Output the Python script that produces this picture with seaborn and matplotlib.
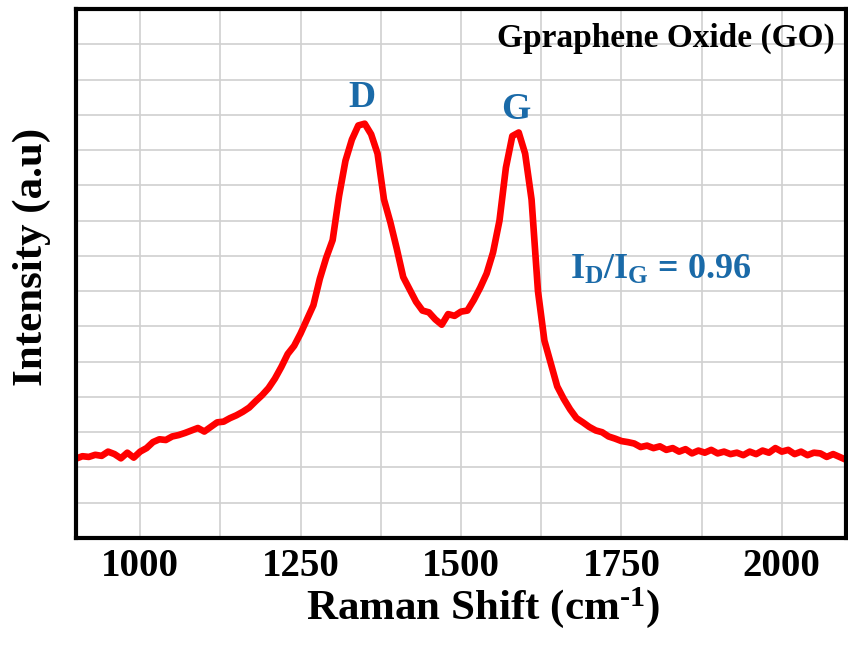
import matplotlib
matplotlib.use("Agg")
import matplotlib.pyplot as plt
import numpy as np
import pandas as pd
import seaborn as sns
from matplotlib.ticker import MultipleLocator

# Raman spectrum of GO (arbitrary intensity units)
shift = np.arange(900, 2101, 10)
intensity = [
    2.25, 2.32, 2.30, 2.36, 2.33, 2.45, 2.38, 2.26, 2.42, 2.28,   # 900-990
    2.45, 2.55, 2.72, 2.80, 2.78, 2.88, 2.92, 2.98, 3.05, 3.12,   # 1000-1090
    3.02, 3.15, 3.28, 3.30, 3.40, 3.48, 3.58, 3.70, 3.88, 4.05,   # 1100-1190
    4.25, 4.52, 4.85, 5.22, 5.45, 5.80, 6.20, 6.60, 7.35, 7.95,   # 1200-1290
    8.45, 9.70, 10.70, 11.30, 11.70, 11.75, 11.45, 10.90, 9.60, 8.95,  # 1300-1390
    8.20, 7.40, 7.05, 6.70, 6.45, 6.40, 6.20, 6.05, 6.35, 6.30,   # 1400-1490
    6.42, 6.45, 6.75, 7.10, 7.50, 8.10, 9.00, 10.50, 11.40, 11.50,  # 1500-1590
    10.90, 9.60, 7.00, 5.60, 4.95, 4.30, 3.95, 3.65, 3.40, 3.28,  # 1600-1690
    3.15, 3.05, 3.00, 2.88, 2.82, 2.75, 2.72, 2.68, 2.58, 2.62,   # 1700-1790
    2.55, 2.60, 2.50, 2.55, 2.45, 2.52, 2.40, 2.48, 2.42, 2.50,   # 1800-1890
    2.40, 2.45, 2.38, 2.42, 2.35, 2.45, 2.38, 2.48, 2.42, 2.55,   # 1900-1990
    2.45, 2.50, 2.38, 2.45, 2.35, 2.42, 2.40, 2.30, 2.38, 2.30,   # 2000-2090
    2.22,                                                          # 2100
]
xticks = [1000, 1250, 1500, 1750, 2000]

df = pd.DataFrame({"shift": shift, "intensity": intensity})

sns.set_style("white")
plt.rcParams["font.family"] = ["Liberation Serif", "DejaVu Serif"]
plt.rcParams["font.weight"] = "bold"
plt.rcParams["text.color"] = "black"
plt.rcParams["axes.labelcolor"] = "black"
plt.rcParams["xtick.color"] = "black"
plt.rcParams["ytick.color"] = "black"
plt.rcParams["mathtext.fontset"] = "custom"
plt.rcParams["mathtext.rm"] = "Liberation Serif:bold"
plt.rcParams["mathtext.it"] = "Liberation Serif:bold"
plt.rcParams["mathtext.bf"] = "Liberation Serif:bold"

fig = plt.figure(figsize=(8.48, 6.49), dpi=100)
ax = fig.add_axes([0.0896, 0.171, 0.908, 0.815])

sns.lineplot(data=df, x="shift", y="intensity", color="#ff0000", lw=4.8, ax=ax)

ax.set_xlim(900, 2100)
ax.set_ylim(0, 15)
ax.set_xticks(xticks)
ax.xaxis.set_minor_locator(MultipleLocator(125))
ax.set_yticks(np.arange(1, 14, 2))
ax.yaxis.set_minor_locator(MultipleLocator(1))
ax.set_yticklabels([])
ax.grid(True, which="both", color="#d0d0d0", lw=1.2)
ax.set_axisbelow(True)

for s in ax.spines.values():
    s.set_linewidth(3)
    s.set_color("black")
ax.tick_params(axis="both", which="major", direction="in", length=8, width=3,
               labelsize=28, pad=7)
ax.tick_params(axis="both", which="minor", direction="in", length=4, width=2.5)
for lab in ax.get_xticklabels():
    lab.set_fontweight("bold")

ax.set_xlabel(r"Raman Shift (cm$^{\text{-1}}$)", fontsize=31, fontweight="bold")
ax.set_ylabel("Intensity (a.u)", fontsize=31, fontweight="bold")
ax.xaxis.set_label_coords(0.528, -0.088)
ax.yaxis.set_label_coords(-0.032, 0.531)

blue = "#1a6aa8"
ax.text(0.371, 0.832, "D", transform=ax.transAxes, color=blue, fontsize=27,
        fontweight="bold", ha="center", va="center")
ax.text(0.571, 0.810, "G", transform=ax.transAxes, color=blue, fontsize=27,
        fontweight="bold", ha="center", va="center")
ax.text(0.641, 0.507, r"$\mathregular{I_D/I_G}$ = 0.96", transform=ax.transAxes,
        color=blue, fontsize=26, fontweight="bold", ha="left", va="center")
ax.text(0.986, 0.945, "Gpraphene Oxide (GO)", transform=ax.transAxes,
        color="black", fontsize=24, fontweight="bold", ha="right", va="center")

fig.savefig("out.png", dpi=100)
